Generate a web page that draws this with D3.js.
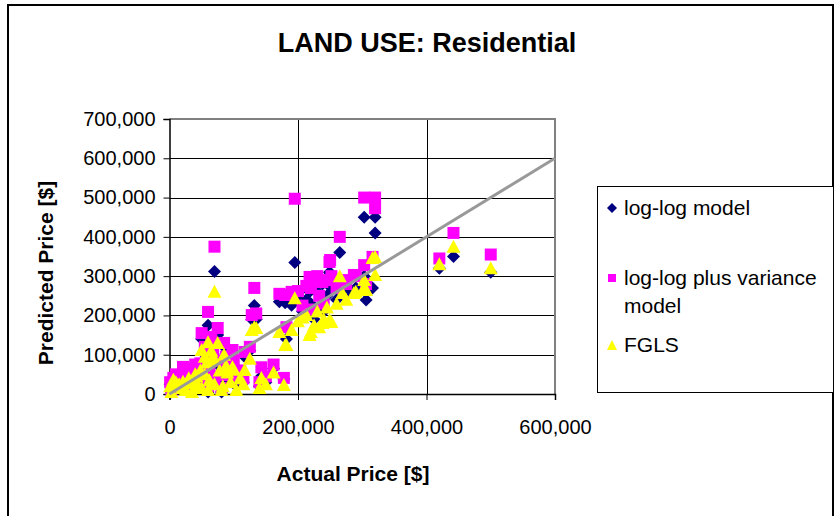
<!DOCTYPE html>
<html><head><meta charset="utf-8">
<script src="https://cdn.jsdelivr.net/npm/d3@7"></script>
<style>body{margin:0;background:#fff}svg{display:block;font-family:"Liberation Sans",Arial,sans-serif}</style>
</head><body><svg id="c" width="836" height="516"></svg>
<script>
// Actual price (thousands of $) for each property
const actualPrice = [500,442,420,320,320,303,195,70,265,132,128,178,143,180,250,249,303,316,287,218,238,252,213,233,269,306,171,190,182,220,200,230,245,260,275,290,240,225,207,
  60,50,75,98,117,21,37,67,83,60,81,104,6,1,10,15,30,40,45,55,65,85,90,110,125,25,35,50,70,95,115,62,78,140,55,20,3,12,28,42,48,58,68,88,100,135,150,162];
// Predicted prices (thousands of $)
const logLogModel = [310,350,320,450,410,450,335,312,360,225,190,38,45,232,308,310,300,270,260,260,280,270,240,220,265,239,235,226,140,230,250,260,250,240,255,270,210,190,210,
  175,140,150,95,95,55,50,80,40,5,5,20,30,25,40,35,45,60,30,100,120,120,60,45,110,15,10,20,30,35,30,40,70,20,60,20,5,28,38,52,68,88,102,82,72,190,30,65];
const logLogVariance = [355,410,345,500,473,500,497,375,400,270,201,41,68,252,341,336,328,349,303,298,285,300,275,250,290,280,255,260,170,270,262,300,290,270,280,300,230,215,225,
  209,155,168,112,107,69,56,95,48,20,15,40,41,30,50,45,65,75,40,120,145,130,75,60,120,20,18,30,45,50,40,60,85,30,70,25,10,35,48,62,78,100,115,95,85,205,45,75];
const fgls = [320,375,330,349,303,290,244,260,300,170,163,23,41,125,183,188,272,346,257,150,181,183,201,170,257,265,158,163,125,158,185,210,220,230,240,260,190,175,195,
  132,112,130,69,61,31,28,87,20,10,10,10,36,20,30,25,40,50,20,95,110,100,55,40,90,10,5,15,25,30,25,35,60,15,50,15,5,22,32,45,60,80,95,72,62,168,25,55];
const xTicks = [0,200000,400000,600000];
const yTicks = [0,100000,200000,300000,400000,500000,600000,700000];
const seriesNames = ["log-log model","log-log plus variance model","FGLS"];

const svg = d3.select("#c");
const x = d3.scaleLinear().domain([0,600000]).range([169.5,555]);
const y = d3.scaleLinear().domain([0,700000]).range([394,119]);
const fmt = d3.format(",");

// outer chart border
svg.append("rect").attr("x",8).attr("y",5).attr("width",825).attr("height",530)
  .attr("fill","none").attr("stroke","#000").attr("stroke-width",2);

// title
svg.append("text").attr("x",427).attr("y",52).attr("text-anchor","middle")
  .attr("font-size",27).attr("font-weight","bold").text("LAND USE: Residential");

// gridlines
const g = svg.append("g");
g.selectAll("line.hg").data(yTicks.slice(1,-1)).join("line")
  .attr("x1",x(0)).attr("x2",x(600000)).attr("y1",d=>Math.round(y(d))+0.5).attr("y2",d=>Math.round(y(d))+0.5)
  .attr("stroke","#000").attr("stroke-width",1);
g.selectAll("line.vg").data(xTicks.slice(1,-1)).join("line")
  .attr("y1",y(0)).attr("y2",y(700000)).attr("x1",d=>Math.round(x(d))+0.5).attr("x2",d=>Math.round(x(d))+0.5)
  .attr("stroke","#000").attr("stroke-width",1);
// plot border top / right (gray)
g.append("path").attr("d",`M${x(0)},${y(700000)}H${x(600000)}V${y(0)}`)
  .attr("fill","none").attr("stroke","#808080").attr("stroke-width",2);

// axes
const xAxis = d3.axisBottom(x).tickValues(xTicks).tickFormat(fmt).tickSize(6).tickPadding(20);
const yAxis = d3.axisLeft(y).tickValues(yTicks).tickFormat(fmt).tickSize(6).tickPadding(8);
const xa = svg.append("g").attr("transform",`translate(0,${y(0)})`).call(xAxis);
const ya = svg.append("g").attr("transform",`translate(${x(0)},0)`).call(yAxis);
[xa,ya].forEach(a=>{
  a.select(".domain").attr("stroke","#000").attr("stroke-width",1.5);
  a.selectAll(".tick line").attr("stroke","#000");
  a.selectAll("text").attr("font-size",20).attr("fill","#000").attr("font-family","Liberation Sans, Arial, sans-serif");
});

// axis titles
svg.append("text").attr("x",353).attr("y",481).attr("text-anchor","middle")
  .attr("font-size",21).attr("font-weight","bold").text("Actual Price [$]");
svg.append("text").attr("transform","translate(53,273) rotate(-90)").attr("text-anchor","middle")
  .attr("font-size",21).attr("font-weight","bold").text("Predicted Price [$]");

// marker shapes
const diamondPath = "M0,-6.5L6.5,0L0,6.5L-6.5,0Z";
const squarePath = "M-6,-6H6V6H-6Z";
const trianglePath = "M0,-7L7,6H-7Z";

const pts = svg.append("g");
const idx = d3.range(actualPrice.length);
pts.selectAll("path.d").data(idx).join("path").attr("d",diamondPath)
  .attr("transform",i=>`translate(${x(actualPrice[i]*1000)},${y(logLogModel[i]*1000)})`).attr("fill","#000080");
pts.selectAll("path.s").data(idx).join("path").attr("d",squarePath)
  .attr("transform",i=>`translate(${x(actualPrice[i]*1000)},${y(logLogVariance[i]*1000)})`).attr("fill","#FF00FF");
pts.selectAll("path.t").data(idx).join("path").attr("d",trianglePath)
  .attr("transform",i=>`translate(${x(actualPrice[i]*1000)},${y(fgls[i]*1000)})`).attr("fill","#FFFF00");

// 45-degree reference line
svg.append("line").attr("x1",x(0)).attr("y1",y(0)).attr("x2",x(600000)).attr("y2",y(600000))
  .attr("stroke","#999999").attr("stroke-width",3);

// legend
const lg = svg.append("g");
lg.append("rect").attr("x",597.5).attr("y",186.5).attr("width",236).attr("height",206)
  .attr("fill","#fff").attr("stroke","#000").attr("stroke-width",1);
const legendItems = [
  {shape:"M0,-5L5,0L0,5L-5,0Z", color:"#000080", lines:[seriesNames[0]], y:208},
  {shape:"M-4,-4H4V4H-4Z", color:"#FF00FF", lines:["log-log plus variance","model"], y:278},
  {shape:"M0,-5L5,5H-5Z", color:"#FFFF00", lines:[seriesNames[2]], y:345}
];
legendItems.forEach(it=>{
  lg.append("path").attr("d",it.shape).attr("fill",it.color).attr("transform",`translate(612,${it.y})`);
  const t = lg.append("text").attr("x",624).attr("y",it.y+7).attr("font-size",21);
  it.lines.forEach((l,k)=>t.append("tspan").attr("x",624).attr("dy",k?28:0).text(l));
});
</script></body></html>
